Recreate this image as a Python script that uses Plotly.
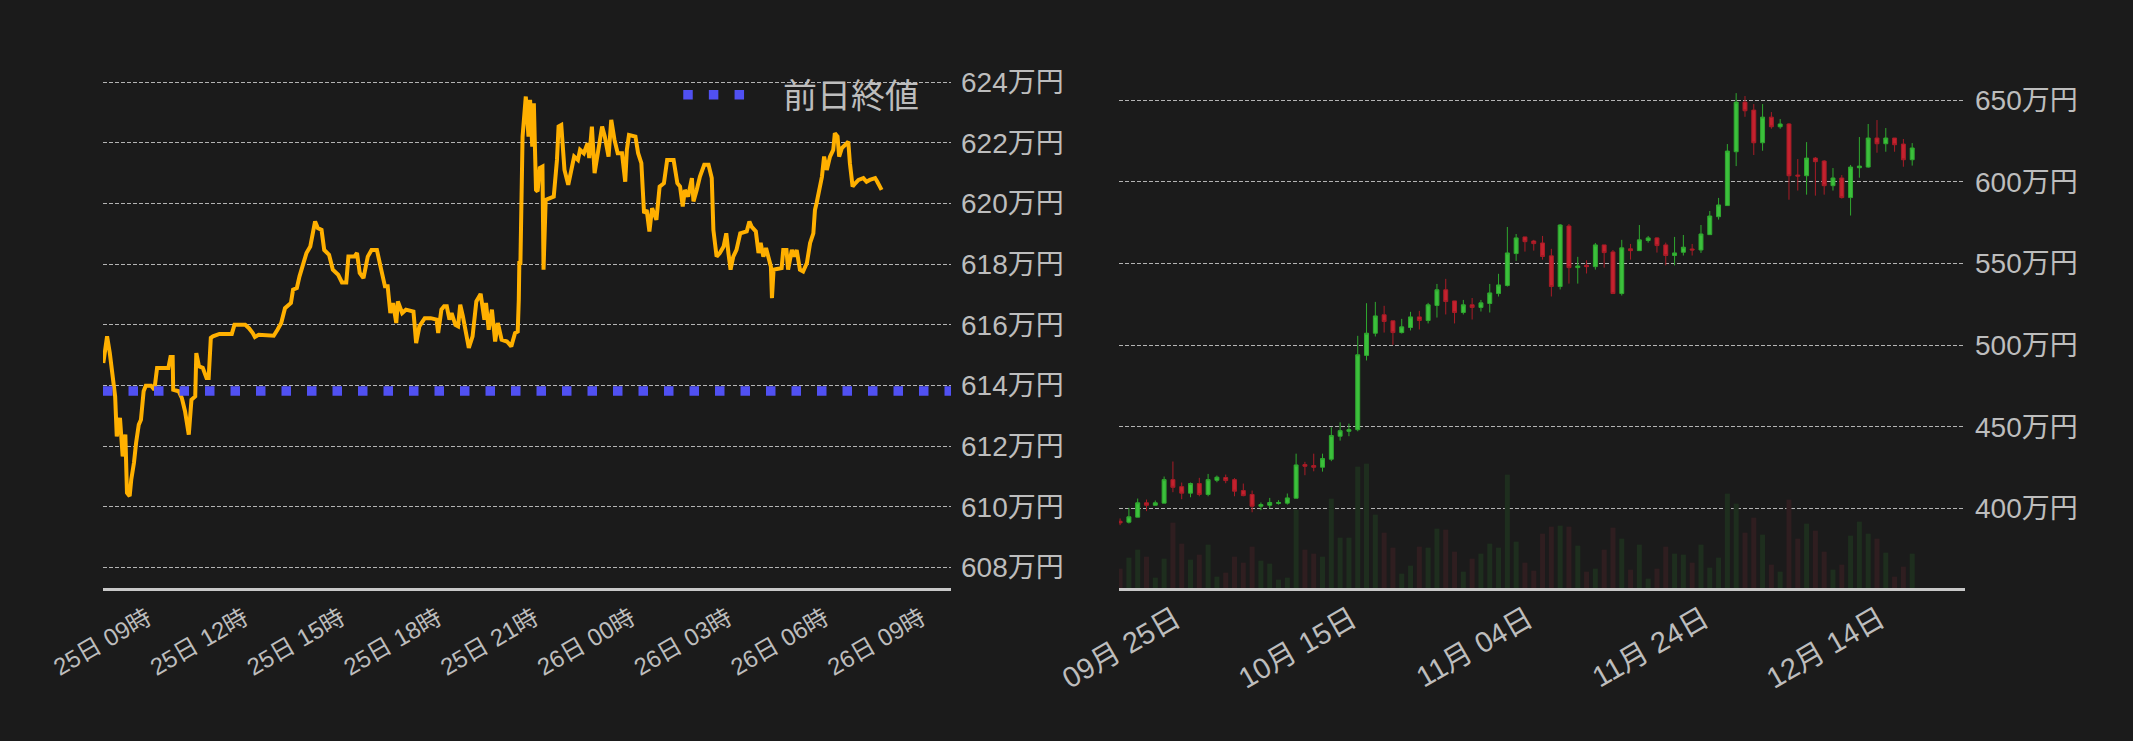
import pandas as pd
import plotly.graph_objects as go

# ---------------- data ----------------
# intraday (minutes after 2023-12-25 00:00) and price in 万円
intraday_minutes = [447, 454, 459, 465, 469, 472, 478, 483, 488, 491, 496, 499, 504, 508, 513, 517, 522, 526, 536, 542,
                    547, 568, 572, 576, 577, 587, 593, 599, 606, 611, 618, 620, 625, 632, 639, 643, 647, 651, 663, 686,
                    691, 711, 718, 725, 729, 736, 764, 771, 778, 785, 796, 800, 807, 812, 817, 825, 832, 837, 841, 846,
                    853, 858, 867, 874, 884, 891, 899, 903, 914, 919, 924, 931, 939, 946, 956, 964, 971, 976, 981, 986,
                    992, 995, 1003, 1010, 1020, 1024, 1029, 1035, 1045, 1056, 1067, 1070, 1076, 1081, 1086, 1091, 1095, 1102, 1107, 1111,
                    1116, 1124, 1127, 1134, 1141, 1149, 1156, 1159, 1164, 1170, 1176, 1181, 1188, 1198, 1206, 1213, 1218, 1220, 1221, 1223,
                    1227, 1233, 1238, 1241, 1245, 1248, 1252, 1255, 1259, 1264, 1266, 1270, 1277, 1285, 1291, 1294, 1299, 1305, 1312, 1318,
                    1323, 1330, 1334, 1341, 1348, 1351, 1356, 1361, 1366, 1375, 1380, 1387, 1392, 1398, 1404, 1412, 1418, 1421, 1425, 1437,
                    1442, 1448, 1453, 1458, 1463, 1468, 1476, 1482, 1490, 1496, 1508, 1515, 1520, 1525, 1529, 1535, 1542, 1545, 1551, 1557,
                    1565, 1573, 1579, 1582, 1588, 1594, 1601, 1606, 1610, 1614, 1619, 1625, 1632, 1644, 1649, 1653, 1661, 1666, 1670, 1675,
                    1680, 1684, 1689, 1691, 1694, 1700, 1709, 1712, 1718, 1721, 1728, 1732, 1737, 1743, 1749, 1756, 1762, 1768, 1771, 1774,
                    1779, 1784, 1788, 1793, 1799, 1805, 1808, 1813, 1816, 1821, 1827, 1833, 1836, 1841, 1846, 1852, 1861, 1867, 1873, 1883,
                    1887, 1895]
intraday_price = [614.74, 615.62, 615.08, 614.30, 613.64, 612.32, 612.93, 611.66, 612.38, 610.46, 610.35, 610.90, 611.45, 612.11, 612.71, 612.87, 613.81, 613.99, 613.99, 613.86,
                  614.58, 614.58, 614.94, 614.94, 613.86, 613.81, 613.59, 613.15, 612.38, 613.53, 613.64, 615.07, 614.63, 614.58, 614.25, 614.25, 615.57, 615.62, 615.70, 615.70,
                  616.00, 616.00, 615.89, 615.73, 615.60, 615.67, 615.64, 615.84, 616.06, 616.55, 616.72, 617.16, 617.21, 617.60, 617.92, 618.37, 618.58, 619.02, 619.41, 619.19,
                  619.13, 618.47, 618.31, 617.82, 617.65, 617.40, 617.40, 618.25, 618.25, 618.37, 617.71, 617.54, 618.25, 618.47, 618.47, 617.82, 617.27, 617.27, 616.39, 616.72,
                  616.06, 616.77, 616.39, 616.50, 616.44, 616.44, 615.40, 615.95, 616.22, 616.22, 616.17, 615.73, 616.50, 616.61, 616.61, 616.17, 616.39, 616.00, 615.95, 616.66,
                  616.28, 615.40, 615.24, 615.62, 616.77, 617.02, 616.17, 616.72, 615.84, 616.50, 615.45, 616.06, 615.51, 615.45, 615.29, 615.73, 615.78, 616.83, 618.04, 618.04,
                  622.21, 623.53, 622.21, 623.42, 621.88, 623.31, 620.45, 620.40, 621.17, 621.22, 617.82, 620.12, 620.18, 620.23, 621.44, 622.54, 622.59, 621.11, 620.62, 621.11,
                  621.55, 621.44, 621.77, 621.66, 621.99, 621.50, 622.54, 621.00, 621.55, 622.54, 622.21, 621.55, 622.76, 622.10, 621.66, 621.66, 620.72, 621.77, 622.26, 622.21,
                  621.66, 621.33, 619.68, 619.79, 619.08, 619.85, 619.46, 620.56, 620.67, 621.44, 621.44, 620.67, 620.56, 619.90, 620.45, 620.23, 620.84, 620.07, 620.45, 620.89,
                  621.28, 621.28, 620.84, 619.13, 618.25, 618.37, 618.58, 619.02, 618.37, 617.82, 618.25, 618.47, 619.02, 619.08, 619.41, 619.24, 619.08, 618.37, 618.70, 618.25,
                  618.53, 618.25, 617.92, 616.88, 617.82, 617.84, 617.87, 618.47, 618.47, 617.82, 618.47, 618.25, 618.47, 617.82, 617.76, 618.04, 618.70, 619.02, 619.79, 620.01,
                  620.45, 620.89, 621.55, 621.11, 621.55, 621.77, 622.32, 622.21, 621.55, 621.83, 621.93, 622.04, 621.33, 620.56, 620.67, 620.78, 620.84, 620.72, 620.78, 620.84,
                  620.72, 620.45]
prev_close = 613.82
legend_label = "前日終値"

# daily candles (万円)
daily_start = "2023-09-18"
daily_open = [392.1, 391.5, 394.6, 403.4, 401.9, 403.2, 417.6, 413.3, 409.3, 415.2,
              408.5, 417.2, 418.9, 417.6, 410.9, 408.5, 401.3, 401.9, 403.0, 403.2,
              406.2, 426.8, 426.2, 425.2, 430.1, 444.2, 447.2, 448.2, 493.7, 507.3,
              518.6, 514.9, 507.7, 510.8, 517.3, 515.1, 524.3, 533.9, 527.1, 520.0,
              524.7, 523.1, 525.5, 531.6, 536.5, 556.1, 566.3, 563.8, 562.6, 554.7,
              535.9, 573.0, 547.5, 548.9, 548.1, 561.4, 557.1, 531.6, 559.0, 557.9,
              564.1, 565.7, 561.4, 554.9, 556.9, 558.9, 558.3, 567.7, 578.7, 585.5,
              618.5, 648.9, 644.0, 624.0, 639.7, 633.8, 635.5, 604.2, 603.8, 614.6,
              612.8, 597.7, 602.4, 590.4, 608.7, 609.1, 626.9, 623.4, 626.9, 623.2,
              613.6]
daily_high = [393.8, 400.3, 406.0, 405.4, 404.8, 419.5, 428.7, 415.8, 415.8, 418.7,
              421.1, 420.1, 420.7, 418.5, 415.2, 410.9, 403.6, 406.4, 405.0, 409.1,
              433.5, 428.5, 433.5, 433.5, 449.7, 452.7, 451.9, 505.7, 525.7, 526.5,
              524.1, 514.9, 516.1, 520.4, 521.0, 525.9, 537.5, 540.6, 527.1, 527.7,
              528.9, 527.7, 537.5, 543.7, 572.4, 568.1, 566.3, 564.5, 566.9, 559.0,
              574.2, 574.2, 554.1, 552.0, 562.6, 561.4, 558.3, 564.5, 562.0, 573.6,
              566.9, 566.1, 562.8, 566.3, 567.5, 562.0, 573.6, 582.2, 590.2, 623.2,
              654.4, 652.6, 647.7, 647.7, 642.8, 638.5, 636.1, 614.0, 624.4, 615.3,
              613.4, 608.5, 604.2, 610.4, 627.5, 635.5, 637.9, 633.0, 626.9, 626.3,
              623.8]
daily_low = [389.7, 390.7, 394.6, 398.3, 401.9, 403.2, 409.9, 405.6, 406.8, 407.4,
             407.4, 416.0, 415.4, 407.4, 407.4, 397.6, 398.9, 400.1, 402.3, 402.3,
             406.2, 420.3, 422.7, 422.5, 428.9, 441.5, 444.2, 447.2, 490.6, 505.3,
             507.7, 500.2, 507.1, 509.0, 509.6, 513.3, 516.9, 518.8, 513.3, 518.8,
             515.7, 520.6, 520.0, 529.8, 535.9, 551.6, 557.3, 557.9, 552.4, 529.8,
             534.1, 537.7, 537.7, 543.9, 546.3, 547.5, 531.6, 530.4, 552.4, 557.9,
             562.8, 556.7, 548.9, 548.9, 554.9, 554.9, 556.5, 567.7, 576.9, 585.5,
             609.7, 639.9, 616.5, 619.1, 632.6, 632.6, 589.1, 594.7, 592.2, 591.6,
             592.2, 594.7, 589.8, 579.4, 602.6, 608.7, 617.9, 618.5, 618.5, 609.3,
             610.0]
daily_close = [391.1, 394.8, 403.4, 401.9, 403.4, 417.6, 412.9, 409.3, 415.2, 408.5,
               417.6, 419.1, 417.0, 410.5, 407.8, 401.3, 402.3, 403.6, 403.6, 406.4,
               426.6, 425.8, 425.2, 430.5, 444.6, 447.6, 448.2, 494.1, 507.3, 517.9,
               514.5, 507.7, 511.2, 517.3, 515.1, 524.7, 533.9, 526.7, 520.0, 524.7,
               523.1, 525.9, 532.0, 536.9, 556.5, 565.7, 563.4, 562.2, 554.3, 535.9,
               573.6, 547.5, 548.5, 548.1, 561.4, 556.7, 531.6, 559.6, 557.9, 564.5,
               565.7, 561.0, 554.9, 556.5, 560.0, 558.3, 568.1, 579.1, 585.9, 618.9,
               648.9, 643.6, 624.0, 639.7, 633.8, 635.5, 603.8, 603.6, 614.6, 612.4,
               597.7, 602.4, 590.4, 609.1, 609.7, 626.9, 623.4, 626.9, 622.8, 613.6,
               620.8]
daily_volume = [58, 91, 115, 94, 31, 88, 196, 133, 85, 100,
                130, 34, 46, 94, 76, 124, 82, 73, 25, 31,
                235, 115, 103, 94, 268, 151, 151, 364, 373, 220,
                166, 121, 43, 67, 124, 121, 178, 175, 109, 49,
                88, 103, 133, 121, 340, 139, 76, 52, 163, 184,
                187, 184, 127, 49, 58, 115, 181, 148, 55, 130,
                28, 58, 124, 103, 100, 76, 130, 61, 91, 283,
                253, 166, 211, 160, 70, 49, 265, 148, 193, 172,
                109, 55, 70, 157, 199, 163, 148, 106, 34, 64,
                103]
daily_ticks = ["2023-09-25", "2023-10-15", "2023-11-04", "2023-11-24", "2023-12-14"]

# ---------------- styling ----------------
W, H = 2133, 741
BG = "#1b1b1b"
ORANGE = "#ffb000"
BLUE = "#5050f2"
TXT = "#bdbdbd"
GRID = "#b4b4b4"
AXLINE = "#c8c8c8"
UP, UP_LINE = "#3cc03c", "#2fa82f"
DN, DN_LINE = "#c4222e", "#a81c27"
UP_VOL, DN_VOL = "#1e2e1e", "#2f1e20"
FONT = "Liberation Sans, Noto Sans CJK JP, sans-serif"

intraday_time = pd.Timestamp("2023-12-25") + pd.to_timedelta(intraday_minutes, unit="min")
daily_dates = pd.date_range(daily_start, periods=len(daily_open), freq="D")
vol_colors = [UP_VOL if c >= o else DN_VOL for o, c in zip(daily_open, daily_close)]

left_range = ["2023-12-25 07:26:24", "2023-12-26 09:44:06"]
right_range = ["2023-09-17 21:00", "2023-12-23 00:00"]
left_ticks = pd.date_range("2023-12-25 09:00", "2023-12-26 09:00", freq="3h")

def px_x(p):
    return p / W

def px_y(p):
    return (H - p) / H

ydom = [px_y(588), px_y(60)]

fig = go.Figure()
fig.add_trace(go.Scatter(x=intraday_time, y=intraday_price, mode="lines",
                         line=dict(color=ORANGE, width=4), xaxis="x", yaxis="y",
                         hoverinfo="skip"))
fig.add_trace(go.Scatter(x=left_range, y=[prev_close, prev_close], mode="lines",
                         line=dict(color=BLUE, width=9.5, dash="9.5px,16px"),
                         xaxis="x", yaxis="y", name=legend_label, hoverinfo="skip"))
fig.add_trace(go.Bar(x=daily_dates, y=daily_volume, marker=dict(color=vol_colors, line=dict(width=0)),
                     width=0.57 * 86400000, xaxis="x2", yaxis="y2", hoverinfo="skip"))
fig.add_trace(go.Candlestick(x=daily_dates, open=daily_open, high=daily_high, low=daily_low,
                             close=daily_close, xaxis="x2", yaxis="y3", whiskerwidth=0,
                             increasing=dict(fillcolor=UP, line=dict(color=UP_LINE, width=1)),
                             decreasing=dict(fillcolor=DN, line=dict(color=DN_LINE, width=1)),
                             hoverinfo="skip"))

common_x = dict(type="date", showgrid=False, zeroline=False, showline=True, linecolor=AXLINE,
                linewidth=3, ticks="", tickangle=-30, automargin=False)
common_y = dict(showgrid=True, gridcolor=GRID, gridwidth=1, griddash="4px,2px", zeroline=False,
                showline=False, ticks="", side="right", automargin=False,
                tickfont=dict(size=28, color=TXT, family=FONT), ticklabelstandoff=9)

fig.update_layout(
    width=W, height=H, autosize=False,
    margin=dict(l=0, r=0, t=0, b=0, pad=0),
    paper_bgcolor=BG, plot_bgcolor=BG,
    showlegend=False, boxgap=0.36, hovermode=False,
    font=dict(family=FONT, color=TXT),
    xaxis=dict(common_x, domain=[px_x(103), px_x(951)], anchor="y", range=left_range,
               tickvals=left_ticks, tickformat="%d日 %H時",
               tickfont=dict(size=24, color=TXT, family=FONT), ticklabelstandoff=4,
               ticklabelshift=-6),
    yaxis=dict(common_y, domain=ydom, anchor="x", range=[607.32, 624.735],
               tick0=608, dtick=2, ticksuffix="万円"),
    xaxis2=dict(common_x, domain=[px_x(1119), px_x(1965)], anchor="y2", range=right_range,
                tickvals=daily_ticks, tickformat="%m月 %d日",
                tickfont=dict(size=29, color=TXT, family=FONT), ticklabelstandoff=0,
                ticklabelshift=-6, rangeslider=dict(visible=False)),
    yaxis2=dict(domain=ydom, anchor="x2", range=[0, 1584], visible=False, showgrid=False,
                zeroline=False),
    yaxis3=dict(common_y, overlaying="y2", anchor="x2", range=[351.2, 674.7],
                tick0=400, dtick=50, ticksuffix="万円"),
)

# legend drawn as decoration: three squares + label
for cx in (688.0, 713.6, 739.3):
    fig.add_shape(type="rect", xref="paper", yref="paper",
                  x0=px_x(cx - 4.75), x1=px_x(cx + 4.75), y0=px_y(99.5), y1=px_y(90),
                  fillcolor=BLUE, line=dict(width=0), layer="above")
fig.add_annotation(x=px_x(781), y=px_y(94), xref="paper", yref="paper", text=legend_label,
                   showarrow=False, xanchor="left", yanchor="middle",
                   font=dict(size=34, color=TXT, family="Noto Sans CJK JP, sans-serif"))

fig.write_html(
    "out.html",
    config={"displayModeBar": False, "staticPlot": True},
    post_script="document.body.style.margin='0';document.body.style.overflow='hidden';"
                "document.body.style.background='#1b1b1b';",
)
